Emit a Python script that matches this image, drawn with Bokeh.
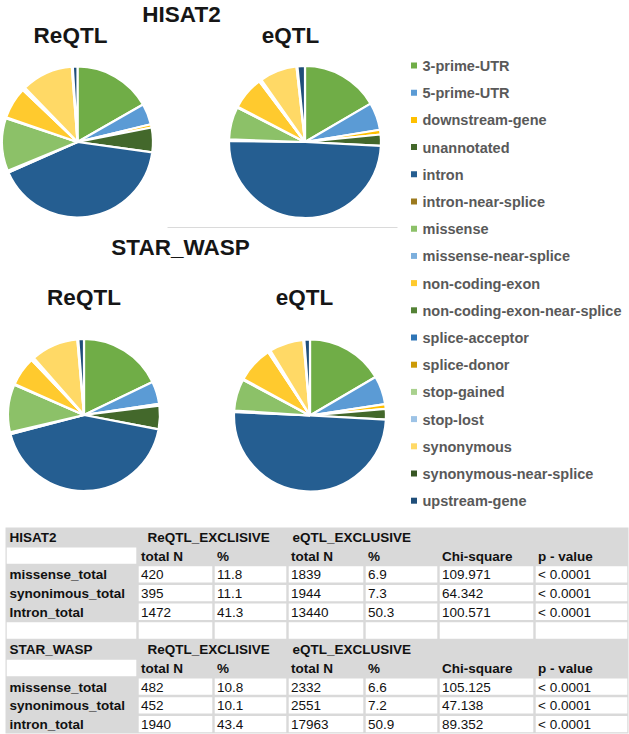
import numpy as np
from bokeh.plotting import figure
from bokeh.models import Range1d
from bokeh.core.properties import value
from bokeh.embed import file_html
from bokeh.resources import INLINE

# ---------------- data ----------------
categories = ["3-prime-UTR", "5-prime-UTR", "downstream-gene", "unannotated", "intron",
              "intron-near-splice", "missense", "missense-near-splice", "non-coding-exon",
              "non-coding-exon-near-splice", "splice-acceptor", "splice-donor", "stop-gained",
              "stop-lost", "synonymous", "synonymous-near-splice", "upstream-gene"]
colors = ["#70AD47", "#5B9BD5", "#FFC000", "#43682B", "#255E91", "#9C7A1E", "#8CC168",
          "#7CAFDD", "#FFCA2E", "#548235", "#2E75B6", "#CC9A06", "#A9D18E", "#9DC3E6",
          "#FFD966", "#375623", "#1F4E79"]

# percentage shares
hisat2_reqtl = [16.8, 4.5, 0.7, 5.3, 41.3, 0.4, 11.4, 0.2, 6.8, 0.1, 0.1, 0.1, 0.3, 0.05, 11.1, 0.2, 1.0]
hisat2_eqtl = [16.7, 5.9, 1.0, 2.4, 49.8, 0.3, 7.0, 0.2, 7.1, 0.1, 0.1, 0.1, 0.2, 0.05, 8.0, 0.2, 1.6]
star_reqtl = [17.9, 4.8, 0.4, 5.0, 43.0, 0.4, 10.2, 0.2, 6.2, 0.1, 0.1, 0.1, 0.3, 0.05, 10.1, 0.2, 1.2]
star_eqtl = [16.7, 6.1, 1.0, 2.3, 50.3, 0.3, 6.8, 0.2, 7.8, 0.1, 0.1, 0.1, 0.2, 0.05, 7.4, 0.2, 1.2]

# table
col_headers = ["total N", "%", "total N", "%", "Chi-square", "p - value"]
hisat2_rows = ["missense_total", "synonimous_total", "Intron_total"]
hisat2_re_n = ["420", "395", "1472"]
hisat2_re_pct = ["11.8", "11.1", "41.3"]
hisat2_e_n = ["1839", "1944", "13440"]
hisat2_e_pct = ["6.9", "7.3", "50.3"]
hisat2_chi = ["109.971", "64.342", "100.571"]
hisat2_p = ["< 0.0001", "< 0.0001", "< 0.0001"]
star_rows = ["missense_total", "synonimous_total", "intron_total"]
star_re_n = ["482", "452", "1940"]
star_re_pct = ["10.8", "10.1", "43.4"]
star_e_n = ["2332", "2551", "17963"]
star_e_pct = ["6.6", "7.2", "50.9"]
star_chi = ["105.125", "47.138", "89.352"]
star_p = ["< 0.0001", "< 0.0001", "< 0.0001"]

# ---------------- figure ----------------
W, H = 629, 734


def Y(v):
    return H - np.asarray(v, dtype=float)


p = figure(width=W, height=H, output_backend="svg", toolbar_location=None,
           x_range=Range1d(0, W), y_range=Range1d(0, H),
           x_axis_location=None, y_axis_location=None, min_border=0,
           outline_line_color=None, background_fill_color="white")
p.grid.visible = False
p.margin = (0, 0, 0, 0)

FONT = value("Liberation Sans")
DARK = "#161616"

# faint divider line
p.segment(x0=[167], y0=Y([227]), x1=[397], y1=Y([227]), line_color="#DADADA", line_width=1)

# pies
pies = [(hisat2_reqtl, 77, 141.5, 75.5), (hisat2_eqtl, 304.5, 141.5, 76),
        (star_reqtl, 83.5, 414.5, 76), (star_eqtl, 309.5, 415, 76)]
for vals, cx, cy, r in pies:
    v = np.asarray(vals, dtype=float)
    cum = np.concatenate([[0.0], np.cumsum(v / v.sum())])
    start = np.pi / 2 - 2 * np.pi * cum[:-1]
    end = np.pi / 2 - 2 * np.pi * cum[1:]
    n = len(v)
    p.wedge(x=[cx] * n, y=list(Y([cy] * n)), radius=r, start_angle=list(start), end_angle=list(end),
            direction="clock", fill_color=colors, line_color="white", line_width=2.2)

# titles
titles = ["HISAT2", "ReQTL", "eQTL", "STAR_WASP", "ReQTL", "eQTL"]
tx = [181, 70, 290, 180, 83.5, 304]
ty = [13.5, 34.5, 34.5, 247, 297, 297]
p.text(x=tx, y=Y(ty), text=titles, text_align="center", text_baseline="middle",
       text_font=FONT, text_font_style="bold", text_font_size="22.5px", text_color=DARK)

# legend
ly = 65 + 27.2 * np.arange(len(categories))
p.rect(x=[413.5] * len(categories), y=Y(ly), width=6, height=6, fill_color=colors, line_color=None)
p.text(x=[422] * len(categories), y=Y(ly + 0.5), text=categories, text_align="left",
       text_baseline="middle", text_font=FONT, text_font_style="bold", text_font_size="14.5px",
       text_color="#595959")

# table
col_edges = [5, 137, 213, 287, 364, 438, 534, 628]
top = 527.0
rh = 18.73
n_rows = 11
p.quad(left=[col_edges[0]], right=[col_edges[-1]], top=Y([top]), bottom=Y([top + n_rows * rh]),
       fill_color="#D9D9D9", line_color=None)

cl, cr, ct, cb = [], [], [], []


def white_cell(row, col):
    cl.append(col_edges[col] + 1.2)
    cr.append(col_edges[col + 1] - 1.2)
    ct.append(top + row * rh + 1.2)
    cb.append(top + (row + 1) * rh - 1.2)


bold_x, bold_y, bold_t = [], [], []
reg_x, reg_y, reg_t = [], [], []

blocks = [("HISAT2", hisat2_rows, [hisat2_re_n, hisat2_re_pct, hisat2_e_n, hisat2_e_pct, hisat2_chi, hisat2_p]),
          ("STAR_WASP", star_rows, [star_re_n, star_re_pct, star_e_n, star_e_pct, star_chi, star_p])]
row = 0
for bi, (name, labels, cols) in enumerate(blocks):
    rc = top + row * rh + rh / 2 + 0.5
    bold_x += [col_edges[0] + 4, 147, 292]
    bold_y += [rc, rc, rc]
    bold_t += [name, "ReQTL_EXCLISIVE", "eQTL_EXCLUSIVE"]
    row += 1
    rc = top + row * rh + rh / 2 + 0.5
    white_cell(row, 0)
    for c, h in enumerate(col_headers):
        bold_x.append(col_edges[c + 1] + 3.5)
        bold_y.append(rc)
        bold_t.append(h)
    row += 1
    for i, lab in enumerate(labels):
        rc = top + row * rh + rh / 2 + 0.5
        bold_x.append(col_edges[0] + 4)
        bold_y.append(rc)
        bold_t.append(lab)
        for c, colvals in enumerate(cols):
            white_cell(row, c + 1)
            reg_x.append(col_edges[c + 1] + 3.5)
            reg_y.append(rc)
            reg_t.append(colvals[i])
        row += 1
    if bi == 0:
        for c in range(len(col_edges) - 1):
            white_cell(row, c)
        row += 1

p.quad(left=cl, right=cr, top=Y(ct), bottom=Y(cb), fill_color="white", line_color=None)
p.text(x=bold_x, y=Y(bold_y), text=bold_t, text_align="left", text_baseline="middle",
       text_font=FONT, text_font_style="bold", text_font_size="13.5px", text_color="#111111")
p.text(x=reg_x, y=Y(reg_y), text=reg_t, text_align="left", text_baseline="middle",
       text_font=FONT, text_font_size="13.5px", text_color="#111111")

open("out.html", "w").write(file_html(p, INLINE))
